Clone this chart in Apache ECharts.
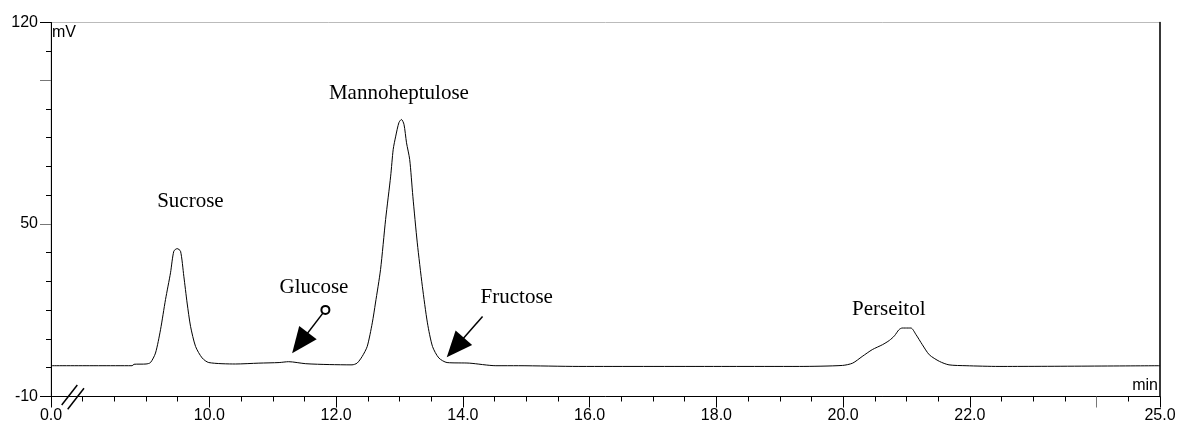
<!DOCTYPE html>
<html>
<head>
<meta charset="utf-8">
<script src="https://cdn.jsdelivr.net/npm/echarts@6/dist/echarts.min.js"></script>
<style>
html,body{margin:0;padding:0;background:#fff;}
#chart{width:1180px;height:425px;}
</style>
</head>
<body>
<div id="chart"></div>
<script>
// ---- data (retention time in min, signal in mV) ----
const time = [7.5, 8.25, 8.78, 8.81, 9.0, 9.07, 9.149, 9.228, 9.307, 9.386, 9.438, 9.49, 9.544, 9.596, 9.648, 9.702, 9.781, 9.885, 9.99, 10.41, 10.78, 11.10, 11.25, 11.52, 11.89, 12.25, 12.33, 12.41, 12.49, 12.57, 12.62, 12.70, 12.78, 12.86, 12.90, 12.94, 12.99, 13.03, 13.07, 13.11, 13.16, 13.21, 13.28, 13.36, 13.44, 13.52, 13.62, 13.75, 14.10, 14.52, 14.88, 15.83, 18.2, 19.31, 19.99, 20.15, 20.30, 20.46, 20.62, 20.73, 20.81, 20.88, 20.93, 20.98, 21.07, 21.15, 21.25, 21.36, 21.52, 21.67, 21.94, 22.46, 25.0];
const signal = [0.7, 0.7, 0.7, 1.2, 1.3, 1.8, 5.1, 13.2, 23.7, 33.0, 40.5, 41.4, 40.5, 31.8, 22.5, 14.4, 7.4, 3.4, 1.8, 1.3, 1.6, 1.8, 2.1, 1.4, 1.1, 1.0, 1.6, 3.9, 7.4, 15.6, 22.5, 34.1, 51.5, 66.6, 75.9, 80.5, 85.2, 86.3, 84.6, 78.2, 72.4, 59.6, 43.4, 28.3, 15.6, 7.4, 3.4, 1.8, 1.6, 0.7, 0.7, 0.45, 0.45, 0.45, 0.8, 1.6, 3.9, 6.3, 8.0, 9.5, 11.1, 13.2, 13.8, 13.8, 13.8, 11.5, 8.0, 4.5, 2.2, 1.0, 0.7, 0.45, 0.7];

// peak annotations
const peakNames = ['Sucrose', 'Glucose', 'Mannoheptulose', 'Fructose', 'Perseitol'];
const peakLabelX = [9.70, 11.65, 12.99, 14.85, 20.72];
const peakLabelY = [57.8, 28.0, 95.2, 24.3, 20.1];

// arrows: start and (arrow-head centre) end
const arrowStartX = [11.83, 14.31];
const arrowStartY = [20.1, 17.8];
const arrowEndX = [11.43, 13.88];
const arrowEndY = [8.6, 7.0];

// axes ticks / labels
const xMin = 7.5, xMax = 25;
const xMinorTicks = [8, 8.5, 9, 9.5, 10.5, 11, 11.5, 12.5, 13, 13.5, 14.5, 15, 15.5, 16.5, 17, 17.5, 18.5, 19, 19.5, 20.5, 21, 21.5, 22.5, 23, 23.5, 24.5];
const xMajorTicks = [7.5, 10, 12, 14, 16, 18, 20, 22, 25];
const xMajorGrayTicks = [24];
const xLabelValues = [7.5, 10, 12, 14, 16, 18, 20, 22, 25];
const xLabelTexts = ['0.0', '10.0', '12.0', '14.0', '16.0', '18.0', '20.0', '22.0', '25.0'];
const yMin = -10, yMax = 120;
const yMinorTicks = [110, 90, 80, 70, 60, 40, 30, 20, 10, 0];
const yMajorBlack = [120, -10];
const yMajorGray = [100, 50];
const yLabelValues = [120, 50, -10];

const points = time.map((t, i) => [t, signal[i]]);

const chart = echarts.init(document.getElementById('chart'), null, {renderer: 'canvas'});

const sans = 'Liberation Sans, Arial, sans-serif';
const serif = 'Liberation Serif, Times New Roman, serif';

const baseX = {
  type: 'value', min: xMin, max: xMax, gridIndex: 0,
  splitLine: {show: false}, axisPointer: {show: false}
};
const baseY = {
  type: 'value', min: yMin, max: yMax, gridIndex: 0, position: 'left',
  splitLine: {show: false}, axisPointer: {show: false}
};

const option = {
  animation: false,
  backgroundColor: '#fff',
  grid: {left: 51, right: 20, top: 22.5, bottom: 28.5, show: true, borderColor: '#bbbbbb', borderWidth: 1,
         containLabel: false, outerBoundsMode: 'none'},
  xAxis: [
    Object.assign({}, baseX, {
      axisLine: {show: true, onZero: false, lineStyle: {color: '#000', width: 1}},
      axisTick: {show: true, inside: false, length: 5, customValues: xMinorTicks, lineStyle: {color: '#000'}},
      axisLabel: {show: false}
    }),
    Object.assign({}, baseX, {
      position: 'bottom',
      axisLine: {show: false, onZero: false},
      axisTick: {show: true, length: 11, customValues: xMajorTicks, lineStyle: {color: '#000'}},
      axisLabel: {show: true, customValues: xLabelValues, margin: 11, color: '#000', fontSize: 16, fontFamily: sans,
        hideOverlap: false,
        formatter: v => { const i = xLabelValues.findIndex(x => Math.abs(x - v) < 1e-6); return i >= 0 ? xLabelTexts[i] : ''; }}
    }),
    Object.assign({}, baseX, {
      position: 'bottom',
      axisLine: {show: false, onZero: false},
      axisTick: {show: true, length: 11, customValues: xMajorGrayTicks, lineStyle: {color: '#777'}},
      axisLabel: {show: false}
    })
  ],
  yAxis: [
    Object.assign({}, baseY, {
      axisLine: {show: true, onZero: false, lineStyle: {color: '#000', width: 1}},
      axisTick: {show: true, length: 5, customValues: yMinorTicks, lineStyle: {color: '#000'}},
      axisLabel: {show: false}
    }),
    Object.assign({}, baseY, {
      axisLine: {show: false, onZero: false},
      axisTick: {show: true, length: 11, customValues: yMajorBlack, lineStyle: {color: '#000'}},
      axisLabel: {show: true, customValues: yLabelValues, margin: 13, color: '#000', fontSize: 16, fontFamily: sans,
        hideOverlap: false, formatter: v => String(v)}
    }),
    Object.assign({}, baseY, {
      axisLine: {show: false, onZero: false},
      axisTick: {show: true, length: 11, customValues: yMajorGray, lineStyle: {color: '#777'}},
      axisLabel: {show: false}
    }),
    Object.assign({}, baseY, {
      position: 'right',
      axisLine: {show: true, onZero: false, lineStyle: {color: '#000', width: 1.5}},
      axisTick: {show: false},
      axisLabel: {show: false}
    })
  ],
  series: [{
    type: 'line',
    xAxisIndex: 0, yAxisIndex: 0,
    data: points,
    showSymbol: false,
    symbol: 'none',
    smooth: 0.25,
    lineStyle: {color: '#000', width: 1},
    silent: true,
    markPoint: {
      silent: true,
      data: peakNames.map((n, i) => ({
        name: n, coord: [peakLabelX[i], peakLabelY[i]],
        symbol: 'rect', symbolSize: 1, itemStyle: {color: 'rgba(0,0,0,0)'},
        label: {show: true, position: 'inside', formatter: '{b}', color: '#000', fontSize: 21, fontFamily: serif}
      })).concat([{
        name: 'marker', coord: [arrowStartX[0], arrowStartY[0]],
        symbol: 'emptyCircle', symbolSize: 8,
        itemStyle: {color: '#000', borderColor: '#000', borderWidth: 1},
        label: {show: false}
      }])
    },
    markLine: {
      silent: true,
      symbol: ['none', 'triangle'],
      symbolSize: [22, 26],
      label: {show: false},
      lineStyle: {color: '#000', width: 1.5, type: 'solid'},
      itemStyle: {color: '#000'},
      data: arrowStartX.map((x, i) => [
        {coord: [x, arrowStartY[i]]},
        {coord: [arrowEndX[i], arrowEndY[i]]}
      ])
    }
  }],
  graphic: [
    {type: 'text', left: 52, top: 25, style: {text: 'mV', fontSize: 16, fontFamily: sans, fill: '#000'}},
    {type: 'text', right: 22, top: 378, style: {text: 'min', fontSize: 16, fontFamily: sans, fill: '#000'}},
    {type: 'line', shape: {x1: 61.7, y1: 405, x2: 77.3, y2: 385}, style: {stroke: '#000', lineWidth: 1.5}},
    {type: 'line', shape: {x1: 67.7, y1: 409.3, x2: 84, y2: 388.3}, style: {stroke: '#000', lineWidth: 1.5}}
  ]
};
chart.setOption(option);
</script>
</body>
</html>
